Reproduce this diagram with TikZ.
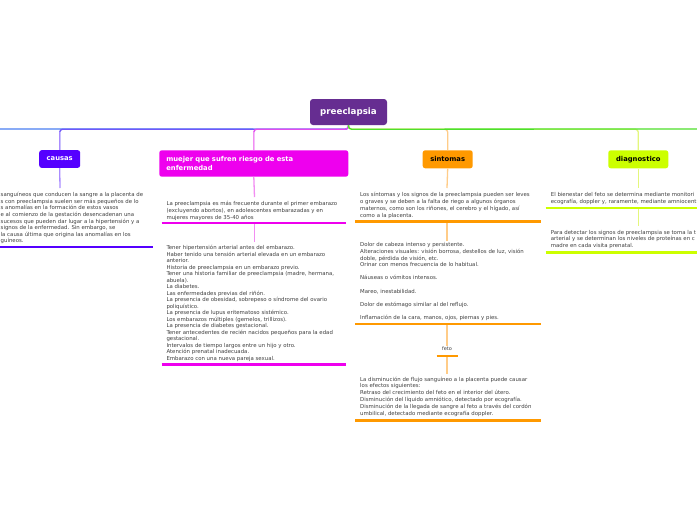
\documentclass[tikz,border=0pt]{standalone}
\usepackage{fontspec}
\setmainfont{DejaVu Sans}
\definecolor{rootc}{HTML}{662D91}
\definecolor{cauc}{HTML}{5500FF}
\definecolor{mujc}{HTML}{EE00EE}
\definecolor{sinc}{HTML}{FF9900}
\definecolor{diac}{HTML}{CCFF00}
\definecolor{hblue}{HTML}{4B7FF2}
\definecolor{hviol}{HTML}{7057FA}
\definecolor{hmag}{HTML}{E24CEE}
\definecolor{hgreen}{HTML}{4DE02B}
\definecolor{vcaus}{HTML}{AA8CFF}
\definecolor{vmag}{HTML}{F28EF2}
\definecolor{vsin}{HTML}{FFCC88}
\definecolor{vdia}{HTML}{E4F77C}
\definecolor{txtc}{HTML}{404040}
\newcommand{\fl}{\rule{0pt}{5pt}}
\begin{document}
\begin{tikzpicture}[x=1pt,y=-1pt,
  rootbox/.style={fill=rootc,text=white,minimum width=77pt,minimum height=26pt,rounded corners=3pt,inner sep=0pt,font=\fontsize{8.7}{10}\selectfont\bfseries},
  lbl/.style={rounded corners=2.5pt,inner sep=0pt,font=\fontsize{6.8}{8.7}\selectfont\bfseries},
  txt/.style={anchor=north west,inner sep=0pt,align=left,text=txtc},
  branch/.style={line width=1.3pt,rounded corners=3pt},
  vline/.style={line width=1.3pt},
  uline/.style={line width=2.8pt}
]
\path[use as bounding box,fill=white] (0,0) rectangle (697,520);
\clip (0,0) rectangle (697,520);

% root
\node[rootbox] (root) at (348.5,112) {preeclapsia};

% boxes
\node[lbl,fill=cauc,text=white,minimum width=41pt,minimum height=17.7pt] (causas) at (59.7,159) {causas};
\node[lbl,fill=mujc,text=white,minimum width=189pt,minimum height=26.4pt,text width=175pt,align=left] (mujer) at (253.8,163.5) {muejer que sufren riesgo de esta\\enfermedad};
\node[lbl,fill=sinc,text=black,minimum width=50pt,minimum height=18pt] (sint) at (447.7,159.3) {sintomas};
\node[lbl,fill=diac,text=black,minimum width=60pt,minimum height=18pt] (diag) at (638.3,159.3) {diagnostico};

% free ends of the top line
\coordinate (lEnd) at (-5,129);
\coordinate (rEnd) at (705,129);

% branches (left)
\draw[branch,hblue] (root.south) -- ++(0,4) -- (lEnd);
\draw[branch,hviol] (root.south) -- ++(0,4) -| (causas.north);
\draw[branch,hmag] (root.south) -- ++(0,4) -| (mujer.north);
% branches (right)
\draw[branch,vsin] (root.south) -- ++(0,4) -| (sint.north);
\draw[branch,vdia] (root.south) -- ++(0,4) -| (diag.north);
\draw[branch,hgreen] (root.south) -- ++(0,4) -- (rEnd);
% lighter vertical parts
\draw[vline,vcaus] (causas.north) -- ++(0,-18);
\draw[vline,vmag] (mujer.north) -- ++(0,-18);

% ---------- causas ----------
\node[txt,font=\fontsize{5.4}{6.55}\selectfont] (ctext) at (0.5,191.6) {\fl sanguíneos que conducen la sangre a la placenta de\\
s con preeclampsia suelen ser más pequeños de lo\\
s anomalías en la formación de estos vasos\\
e al comienzo de la gestación desencadenan una\\
 sucesos que pueden dar lugar a la hipertensión y a\\
 signos de la enfermedad. Sin embargo, se\\
 la causa última que origina las anomalías en los\\
guíneos.};
\coordinate (c1) at (60,188);
\draw[vline,vcaus] (causas.south) -- (c1);
\coordinate (cuA) at (0,247);
\coordinate (cuB) at (152.5,247);
\draw[uline,cauc] (cuA) -- (cuB);

% ---------- mujer ----------
\coordinate (m1) at (254.5,197);
\draw[vline,vmag] (mujer.south) -- (m1);
\node[txt,font=\fontsize{5.4}{6.7}\selectfont] (mtext1) at (166.3,200.6) {\fl La preeclampsia es más frecuente durante el primer embarazo\\
(excluyendo abortos), en adolescentes embarazadas y en\\
mujeres mayores de 35-40 años};
\coordinate (muA) at (161.5,223);
\coordinate (muB) at (346,223);
\coordinate (muM) at (254.5,223);
\coordinate (m2) at (254.5,242);
\draw[vline,vmag] (muM) -- (m2);
\draw[uline,mujc] (muA) -- (muB);
\node[txt,font=\fontsize{5.4}{6.5}\selectfont] (mtext2) at (166.3,244.3) {\fl Tener hipertensión arterial antes del embarazo.\\
Haber tenido una tensión arterial elevada en un embarazo\\
anterior.\\
Historia de preeclampsia en un embarazo previo.\\
Tener una historia familiar de preeclampsia (madre, hermana,\\
abuela).\\
La diabetes.\\
Las enfermedades previas del riñón.\\
La presencia de obesidad, sobrepeso o síndrome del ovario\\
poliquístico.\\
La presencia de lupus eritematoso sistémico.\\
Los embarazos múltiples (gemelos, trillizos).\\
La presencia de diabetes gestacional.\\
Tener antecedentes de recién nacidos pequeños para la edad\\
gestacional.\\
Intervalos de tiempo largos entre un hijo y otro.\\
Atención prenatal inadecuada.\\
Embarazo con una nueva pareja sexual.};
\coordinate (mvA) at (161.5,364.5);
\coordinate (mvB) at (346,364.5);
\draw[uline,mujc] (mvA) -- (mvB);

% ---------- sintomas ----------
\coordinate (s1) at (447,188);
\draw[vline,vsin] (sint.south) -- (s1);
\node[txt,font=\fontsize{5.4}{7.0}\selectfont] (stext1) at (360,191.6) {\fl Los síntomas y los signos de la preeclampsia pueden ser leves\\
o graves y se deben a la falta de riego a algunos órganos\\
maternos, como son los riñones, el cerebro y el hígado, así\\
como a la placenta.};
\coordinate (suA) at (355,221.3);
\coordinate (suB) at (540.5,221.3);
\coordinate (suM) at (447,221.3);
\coordinate (s2) at (447,241);
\draw[vline,vsin] (suM) -- (s2);
\draw[uline,sinc] (suA) -- (suB);
\node[txt,font=\fontsize{5.4}{6.6}\selectfont] (stext2) at (360,241.6) {\fl Dolor de cabeza intenso y persistente.\\
Alteraciones visuales: visión borrosa, destellos de luz, visión\\
doble, pérdida de visión, etc.\\
Orinar con menos frecuencia de lo habitual.\\[6.6pt]
Náuseas o vómitos intensos.\\[6.6pt]
Mareo, inestabilidad.\\[6.6pt]
Dolor de estómago similar al del reflujo.\\[6.6pt]
Inflamación de la cara, manos, ojos, piernas y pies.};
\coordinate (svA) at (355,324);
\coordinate (svB) at (540.5,324);
\coordinate (svM) at (447,324);
\node[inner sep=0pt,text=txtc,font=\fontsize{5}{6}\selectfont] (feto) at (447,348.5) {feto};
\draw[vline,vsin] (svM) -- (feto.north);
\draw[uline,sinc] (svA) -- (svB);
\coordinate (fuA) at (436.7,355.7);
\coordinate (fuB) at (458.3,355.7);
\coordinate (fuM) at (447,355.7);
\coordinate (f2) at (447,374);
\draw[vline,vsin] (fuM) -- (f2);
\draw[line width=2.2pt,sinc] (fuA) -- (fuB);
\node[txt,font=\fontsize{5.4}{6.8}\selectfont] (ftext) at (360,375.9) {\fl La disminución de flujo sanguíneo a la placenta puede causar\\
los efectos siguientes:\\
Retraso del crecimiento del feto en el interior del útero.\\
Disminución del líquido amniótico, detectado por ecografía.\\
Disminución de la llegada de sangre al feto a través del cordón\\
umbilical, detectado mediante ecografía doppler.};
\coordinate (fvA) at (355,420.3);
\coordinate (fvB) at (540.5,420.3);
\draw[uline,sinc] (fvA) -- (fvB);

% ---------- diagnostico ----------
\coordinate (d1) at (638.3,188);
\draw[vline,vdia] (diag.south) -- (d1);
\node[txt,font=\fontsize{5.4}{6.5}\selectfont] (dtext1) at (550.7,191.3) {\fl El bienestar del feto se determina mediante monitori\\
ecografía, doppler y, raramente, mediante amniocent};
\coordinate (duA) at (545.5,208);
\coordinate (duB) at (700,208);
\coordinate (duM) at (638.3,208);
\coordinate (d2) at (638.3,226);
\draw[vline,vdia] (duM) -- (d2);
\draw[uline,diac] (duA) -- (duB);
\node[txt,font=\fontsize{5.4}{6.5}\selectfont] (dtext2) at (550.7,228.9) {\fl Para detectar los signos de preeclampsia se toma la t\\
arterial y se determinan los niveles de proteínas en c\\
madre en cada visita prenatal.};
\coordinate (dvA) at (545.5,252.5);
\coordinate (dvB) at (700,252.5);
\draw[uline,diac] (dvA) -- (dvB);
\end{tikzpicture}
\end{document}
